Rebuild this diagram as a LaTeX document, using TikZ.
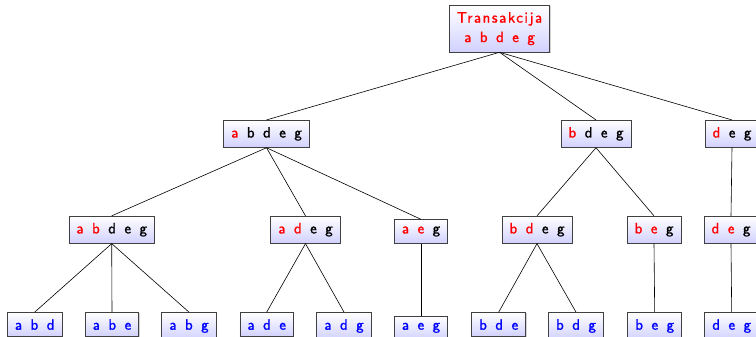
\documentclass[tikz,border=0pt]{standalone}
\usepackage{fontspec}
\setmainfont{lmsans10-regular.otf}[LetterSpace=10,FakeBold=1.2,WordSpace=1.3]
\usetikzlibrary{shadows}
\newcommand{\rd}[1]{\textcolor{red}{#1}}
\tikzset{
  box/.style={draw=black!75, line width=0.7pt, top color=white, bottom color=blue!18,
    inner xsep=7.5pt, inner ysep=6.8pt, font=\fontsize{15}{19.5}\selectfont,
    drop shadow={shadow xshift=0.8pt, shadow yshift=-0.8pt, opacity=0.35}},
  leaf/.style={box, text=blue},
  edge/.style={line width=0.6pt, black}
}
\begin{document}
\begin{tikzpicture}[x=1pt,y=-1pt]
\useasboundingbox (0,0) rectangle (756,337);
\node[box, anchor=north, align=center, text=red] (r) at (499.5,5) {Transakcija\\a b d e g};
% level 1
\node[box, anchor=base] (l1a) at (266.5,137.5) {\rd{a} b d e g};
\node[box, anchor=base] (l1b) at (596,137.5) {\rd{b} d e g};
\node[box, anchor=base] (l1c) at (732,137.5) {\rd{d} e g};
% level 2
\node[box, anchor=base] (l2a) at (111.7,233.4) {\rd{a} \rd{b} d e g};
\node[box, anchor=base] (l2b) at (305.5,233.4) {\rd{a} \rd{d} e g};
\node[box, anchor=base] (l2c) at (421,233.4) {\rd{a} \rd{e} g};
\node[box, anchor=base] (l2d) at (537,233.4) {\rd{b} \rd{d} e g};
\node[box, anchor=base] (l2e) at (654,233.4) {\rd{b} \rd{e} g};
\node[box, anchor=base] (l2f) at (731,233.4) {\rd{d} \rd{e} g};
% level 3
\node[leaf, anchor=base] (l3a) at (34.7,329.7) {a b d};
\node[leaf, anchor=base] (l3b) at (112,329.7) {a b e};
\node[leaf, anchor=base] (l3c) at (189,329.7) {a b g};
\node[leaf, anchor=base] (l3d) at (266.7,329.7) {a d e};
\node[leaf, anchor=base] (l3e) at (344,329.7) {a d g};
\node[leaf, anchor=base] (l3f) at (421,329.7) {a e g};
\node[leaf, anchor=base] (l3g) at (498.7,329.7) {b d e};
\node[leaf, anchor=base] (l3h) at (576,329.7) {b d g};
\node[leaf, anchor=base] (l3i) at (654.7,329.7) {b e g};
\node[leaf, anchor=base] (l3j) at (731.7,329.7) {d e g};
% edges
\foreach \c in {l1a,l1b,l1c} \draw[edge] (r.south) -- (\c.north);
\foreach \c in {l2a,l2b,l2c} \draw[edge] (l1a.south) -- (\c.north);
\foreach \c in {l2d,l2e} \draw[edge] (l1b.south) -- (\c.north);
\draw[edge] (l1c.south) -- (l2f.north);
\foreach \c in {l3a,l3b,l3c} \draw[edge] (l2a.south) -- (\c.north);
\foreach \c in {l3d,l3e} \draw[edge] (l2b.south) -- (\c.north);
\draw[edge] (l2c.south) -- (l3f.north);
\foreach \c in {l3g,l3h} \draw[edge] (l2d.south) -- (\c.north);
\draw[edge] (l2e.south) -- (l3i.north);
\draw[edge] (l2f.south) -- (l3j.north);
\end{tikzpicture}
\end{document}
